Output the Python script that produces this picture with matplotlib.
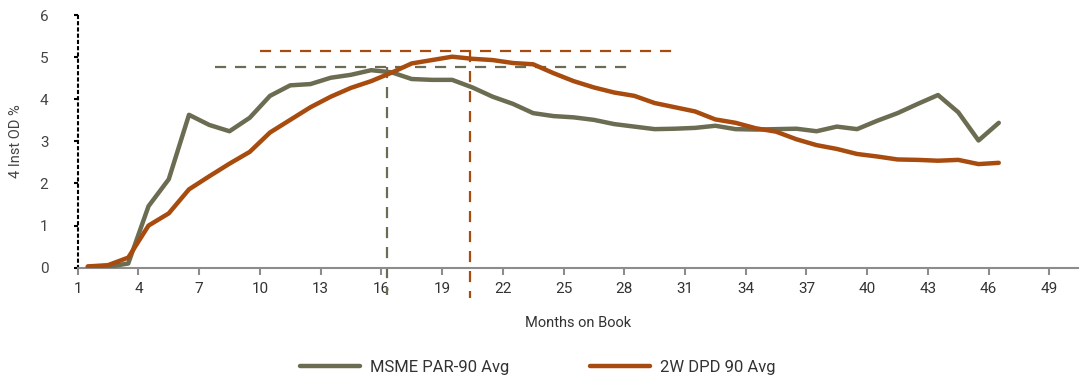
import matplotlib.pyplot as plt
import numpy as np

plt.rcParams['font.family'] = ['Roboto', 'DejaVu Sans']

# months on book (points sit half-way between category ticks)
months = np.arange(1, 47) + 0.5

msme_par90 = [0.02, 0.02, 0.10, 1.46, 2.10, 3.63, 3.39, 3.24, 3.56, 4.08,
              4.33, 4.36, 4.51, 4.58, 4.69, 4.64, 4.48, 4.46, 4.46, 4.28,
              4.06, 3.89, 3.67, 3.60, 3.57, 3.51, 3.41, 3.35, 3.29, 3.30,
              3.32, 3.37, 3.29, 3.28, 3.29, 3.30, 3.24, 3.35, 3.29, 3.49,
              3.67, 3.89, 4.10, 3.69, 3.02, 3.44]

tw_dpd90 = [0.03, 0.06, 0.24, 1.00, 1.29, 1.86, 2.17, 2.47, 2.75, 3.21,
            3.51, 3.81, 4.06, 4.27, 4.43, 4.63, 4.85, 4.93, 5.01, 4.96,
            4.93, 4.86, 4.83, 4.62, 4.43, 4.28, 4.16, 4.08, 3.91, 3.81,
            3.71, 3.52, 3.44, 3.31, 3.23, 3.05, 2.91, 2.82, 2.70, 2.64,
            2.57, 2.56, 2.54, 2.56, 2.46, 2.49]

# reference guides (peak level / month)
msme_peak_y, msme_peak_x = 4.77, 16.3
tw_peak_y, tw_peak_x = 5.15, 20.37
msme_hspan = (7.8, 28.4)
tw_hspan = (10.0, 30.5)

green = '#6b6c52'
orange = '#a84b0f'
grey = '#8c8c8c'

fig = plt.figure(figsize=(10.8, 3.79), dpi=100)
ax = fig.add_axes([0.0719, 0.2937, 0.926, 0.6667])

ax.plot(months, msme_par90, color=green, lw=3.2, label='MSME PAR-90 Avg',
        solid_capstyle='round', zorder=3)
ax.plot(months, tw_dpd90, color=orange, lw=3.2, label='2W DPD 90 Avg',
        solid_capstyle='round', zorder=3)

dash = (0, (5, 4))
ax.plot(msme_hspan, [msme_peak_y] * 2, color=green, lw=1.6, ls=dash, zorder=2)
ax.plot(tw_hspan, [tw_peak_y] * 2, color=orange, lw=1.6, ls=dash, zorder=2)
ax.plot([msme_peak_x] * 2, [msme_peak_y, -0.65], color=green, lw=1.6, ls=dash,
        zorder=2, clip_on=False)
ax.plot([tw_peak_x] * 2, [tw_peak_y, -0.72], color=orange, lw=1.6, ls=dash,
        zorder=2, clip_on=False)

ax.set_xlim(1, 50.4)
ax.set_ylim(0, 6)
ax.set_xticks(np.arange(1, 50, 3))
ax.set_yticks(range(0, 7))

for s in ['top', 'right']:
    ax.spines[s].set_visible(False)
ax.spines['bottom'].set_color(grey)
ax.spines['bottom'].set_linewidth(1.5)
ax.spines['left'].set_color('black')
ax.spines['left'].set_linestyle((0, (1, 2)))
ax.spines['left'].set_linewidth(1.5)

ax.tick_params(axis='x', direction='out', length=5, width=1.5, color=grey,
               labelsize=11, labelcolor='#333333', pad=5)
ax.tick_params(axis='y', direction='out', length=3, width=1.5, color='black',
               labelsize=11, labelcolor='#444444', pad=18)

ax.set_xlabel('Months on Book', fontsize=10.5, color='#333333', labelpad=15)
ax.set_ylabel('4 Inst OD %', fontsize=10.5, color='#444444', labelpad=12)

fig.legend(loc='center', bbox_to_anchor=(0.498, 0.03), ncol=2, frameon=False,
           fontsize=12, handlelength=3.6, columnspacing=4.8, handletextpad=0.6,
           labelcolor='#333333')

plt.savefig('out.png', dpi=100)
